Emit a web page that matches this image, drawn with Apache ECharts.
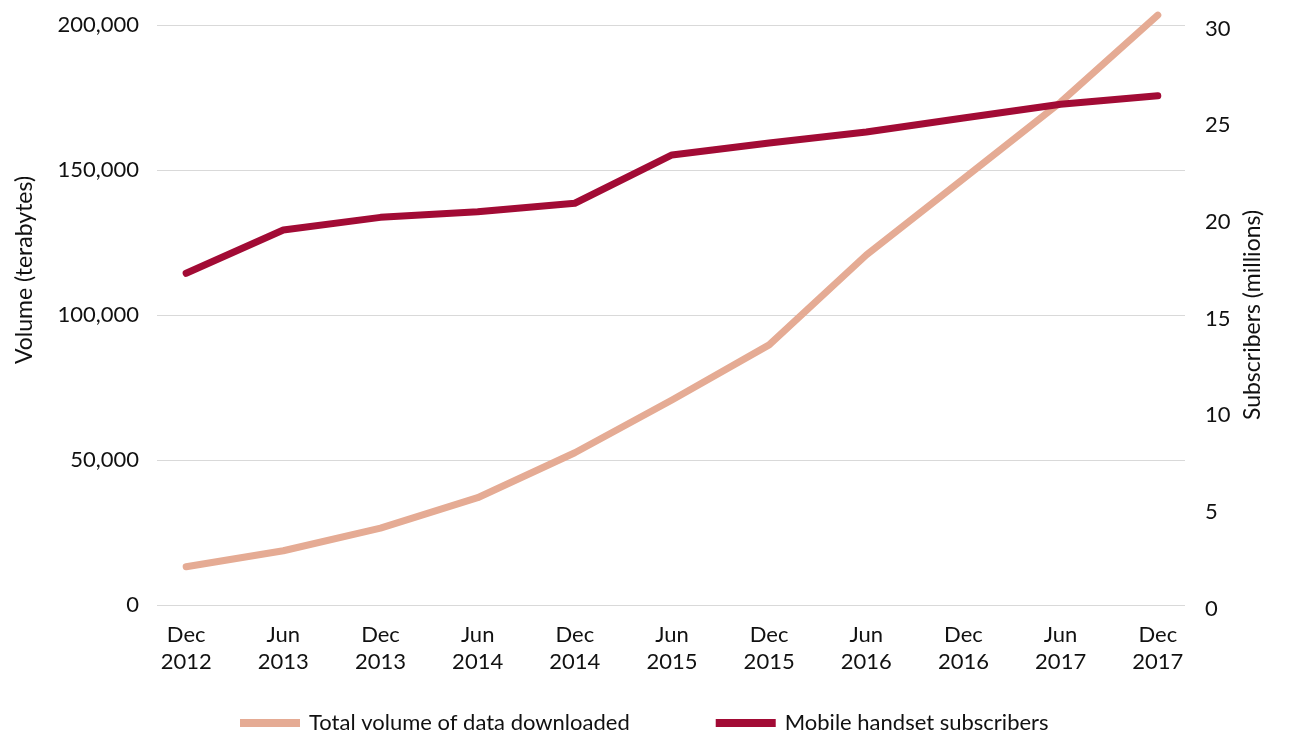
<!DOCTYPE html>
<html>
<head>
<meta charset="utf-8">
<script src="https://cdn.jsdelivr.net/npm/echarts@6/dist/echarts.min.js"></script>
<style>
  html, body { margin: 0; padding: 0; background: #fff; }
  #main { width: 1303px; height: 740px; }
</style>
</head>
<body>
<div id="main"></div>
<script>
// periods on the x axis
var periods = ['Dec\n2012', 'Jun\n2013', 'Dec\n2013', 'Jun\n2014', 'Dec\n2014', 'Jun\n2015',
               'Dec\n2015', 'Jun\n2016', 'Dec\n2016', 'Jun\n2017', 'Dec\n2017'];
// terabytes (left axis)
var dataVolume = [13200, 18700, 26500, 37000, 52500, 70700, 89700, 120700, 147000, 173400, 203400];
// millions (right axis)
var subscribers = [17.16, 19.4, 20.05, 20.34, 20.78, 23.28, 23.9, 24.47, 25.19, 25.9, 26.34];

var seriesNames = ['Total volume of data downloaded', 'Mobile handset subscribers'];

var font = 'Lato, "Open Sans", sans-serif';
var idx = periods.map(function (p, i) { return i; });

function pairs(arr) {
    return arr.map(function (v, i) { return [i, v]; });
}

var myChart = echarts.init(document.getElementById('main'));
myChart.setOption({
    animation: false,
    textStyle: { fontFamily: font },
    grid: { left: 157, right: 118, top: 25, bottom: 135 },
    legend: {
        bottom: 1,
        left: 235,
        icon: 'rect',
        itemWidth: 60,
        itemHeight: 8,
        itemGap: 86,
        textStyle: { fontSize: 22, color: '#111', fontFamily: font, padding: [0, 0, 0, 4] },
        data: seriesNames
    },
    xAxis: {
        type: 'value',
        min: -0.3,
        max: 10.28,
        splitLine: { show: false },
        axisLine: { show: false },
        axisTick: { show: false },
        axisLabel: {
            customValues: idx,
            formatter: function (v) { return periods[Math.round(v)]; },
            fontSize: 22,
            lineHeight: 27,
            color: '#111',
            margin: 16
        }
    },
    yAxis: [
        {
            type: 'value',
            min: 0,
            max: 200000,
            interval: 50000,
            name: 'Volume (terabytes)',
            nameLocation: 'middle',
            nameGap: 121,
            nameTextStyle: { fontSize: 23, color: '#111', padding: [0, 0, 0, 90] },
            axisLine: { show: false },
            axisTick: { show: false },
            axisLabel: {
                fontSize: 22,
                color: '#111',
                margin: 18,
                formatter: function (v) { return v.toLocaleString('en-US'); }
            },
            splitLine: { lineStyle: { color: '#d9d9d9', width: 1 } }
        },
        {
            type: 'value',
            min: 0,
            max: 30,
            interval: 5,
            name: 'Subscribers (millions)',
            nameLocation: 'middle',
            nameGap: 53,
            nameTextStyle: { fontSize: 23, color: '#111' },
            axisLine: { show: false },
            axisTick: { show: false },
            axisLabel: {
                margin: 20,
                formatter: function (v) { return '{a|' + v + '}'; },
                rich: { a: { fontSize: 22, color: '#111', padding: [7, 0, 0, 0] } }
            },
            splitLine: { show: false }
        }
    ],
    series: [
        {
            name: seriesNames[0],
            type: 'line',
            yAxisIndex: 0,
            data: pairs(dataVolume),
            showSymbol: false,
            clip: false,
            color: '#E5AB94',
            lineStyle: { width: 7, cap: 'round', join: 'round' }
        },
        {
            name: seriesNames[1],
            type: 'line',
            yAxisIndex: 1,
            data: pairs(subscribers),
            showSymbol: false,
            clip: false,
            color: '#A20B35',
            lineStyle: { width: 7, cap: 'round', join: 'round' }
        }
    ]
});
</script>
</body>
</html>
